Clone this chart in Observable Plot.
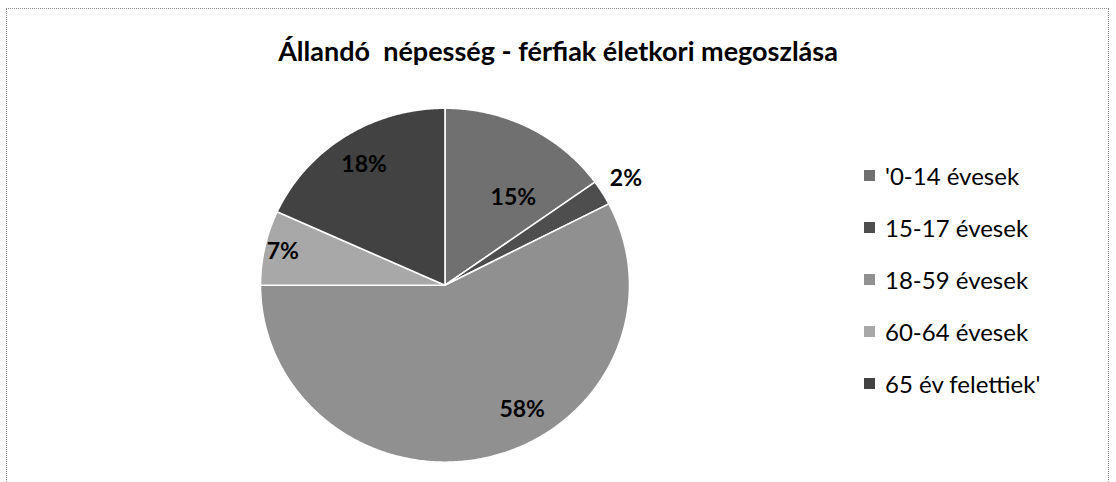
<!DOCTYPE html>
<html>
<head>
<meta charset="utf-8">
<script src="https://cdn.jsdelivr.net/npm/d3@7"></script>
<script src="https://cdn.jsdelivr.net/npm/@observablehq/plot@0.6"></script>
<style>
  html, body { margin: 0; padding: 0; background: #fff; width: 1116px; height: 482px; overflow: hidden; }
  #frame { position: absolute; left: 6px; top: 8px; width: 1103px; height: 500px; border: 1px dotted #8a8a8a; box-sizing: border-box; }
  #title { position: absolute; left: 0; top: 34px; width: 1116px; text-align: center; font-family: Lato, "DejaVu Sans", sans-serif; font-weight: bold; font-size: 27px; color: #000; }
  #chart { position: absolute; left: 0; top: 0; }
  #legend { position: absolute; left: 864px; top: 162px; font-family: Lato, sans-serif; font-size: 24px; color: #000; }
  .row { position: absolute; left: 0; white-space: nowrap; display: flex; align-items: center; height: 26px; }
  .sw { width: 11px; height: 11px; margin-right: 10px; }
</style>
</head>
<body>
<div id="frame"></div>
<div id="chart"></div>
<div id="title">Állandó&nbsp; népesség - férfiak életkori megoszlása</div>
<div id="legend"></div>
<script>
const categories = ["'0-14 évesek", "15-17 évesek", "18-59 évesek", "60-64 évesek", "65 év felettiek'"];
const shares = [15.1, 2.3, 57.6, 6.8, 18.2];
const labels = ["15%", "2%", "58%", "7%", "18%"];
const grays = ["#707070", "#4e4e4e", "#909090", "#a8a8a8", "#424242"];
// label placement: fraction of radius and angular shift (degrees) from slice middle
const labelRadius = [0.62, 1.15, 0.82, 0.9, 0.81];
const labelShift = [9.5, 0, -17, 0, 0];

const pie = d3.pie().sort(null).value(d => d)(shares);

// polygon points for each slice (angle measured clockwise from 12 o'clock)
const pts = [];
pie.forEach((p, i) => {
  const c = categories[i];
  pts.push({cat: c, x: 0, y: 0});
  const n = Math.max(4, Math.ceil((p.endAngle - p.startAngle) / 0.01));
  for (let k = 0; k <= n; k++) {
    const a = p.startAngle + (p.endAngle - p.startAngle) * k / n;
    pts.push({cat: c, x: Math.sin(a), y: Math.cos(a)});
  }
  pts.push({cat: c, x: 0, y: 0});
});

const lab = pie.map((p, i) => {
  const a = (p.startAngle + p.endAngle) / 2 + labelShift[i] * Math.PI / 180;
  return {text: labels[i], x: labelRadius[i] * Math.sin(a), y: labelRadius[i] * Math.cos(a)};
});

const W = 1116, H = 482;
const cx = 444.5, cy = 284.7, rx = 184.5, ry = 177;

const chart = Plot.plot({
  width: W,
  height: H,
  marginLeft: cx - rx,
  marginRight: W - (cx + rx),
  marginTop: cy - ry,
  marginBottom: H - (cy + ry),
  x: {domain: [-1, 1], axis: null},
  y: {domain: [-1, 1], axis: null},
  color: {domain: categories, range: grays},
  style: {background: "transparent", overflow: "visible"},
  marks: [
    Plot.line(pts, {x: "x", y: "y", z: "cat", fill: "cat", stroke: "white", strokeWidth: 1.6, curve: "linear"}),
    Plot.text(lab, {x: "x", y: "y", text: "text", fontSize: 23, fontWeight: "bold", fill: "#000", fontFamily: "Lato, sans-serif"})
  ]
});
document.getElementById("chart").appendChild(chart);

const legend = document.getElementById("legend");
categories.forEach((c, i) => {
  const row = document.createElement("div");
  row.className = "row";
  row.style.top = (i * 52) + "px";
  const sw = document.createElement("span");
  sw.className = "sw";
  sw.style.background = grays[i];
  const t = document.createElement("span");
  t.textContent = c;
  row.appendChild(sw);
  row.appendChild(t);
  legend.appendChild(row);
});
</script>
</body>
</html>
